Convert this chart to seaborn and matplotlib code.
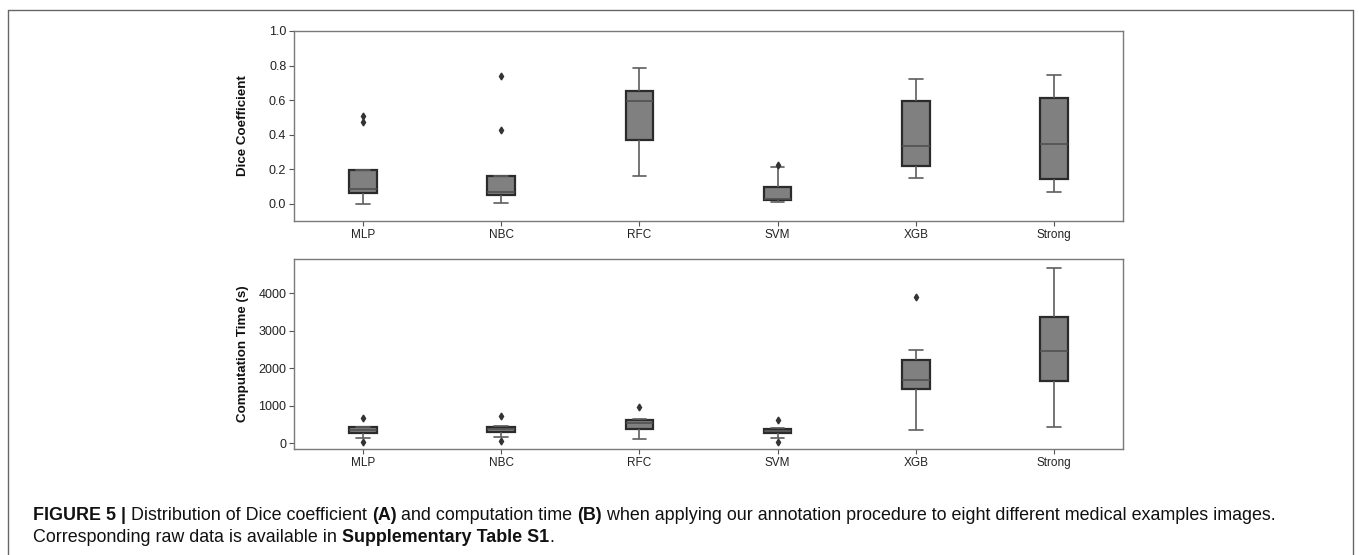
import numpy as np
import pandas as pd
import matplotlib
matplotlib.use("Agg")
import matplotlib.pyplot as plt
from matplotlib.lines import Line2D
import seaborn as sns

# classifiers compared
methods = ["MLP", "NBC", "RFC", "SVM", "XGB", "Strong"]

# Dice coefficient per image (eight medical images per method)
dice_mlp = [0.0, 0.06, 0.065, 0.075, 0.091, 0.099, 0.475, 0.506]
dice_nbc = [0.006, 0.04, 0.051, 0.062, 0.07, 0.072, 0.425, 0.739]
dice_rfc = [0.162, 0.30, 0.39, 0.58, 0.606, 0.64, 0.692, 0.786]
dice_svm = [0.008, 0.015, 0.023, 0.026, 0.032, 0.06, 0.212, 0.226]
dice_xgb = [0.147, 0.19, 0.23, 0.30, 0.372, 0.57, 0.67, 0.722]
dice_strong = [0.066, 0.10, 0.157, 0.30, 0.388, 0.58, 0.70, 0.745]

# computation time in seconds per image
time_mlp = [44, 133, 334, 340, 372, 421, 445, 667]
time_nbc = [55, 160, 347, 355, 391, 423, 450, 738]
time_rfc = [107, 340, 413, 505, 561, 600, 649, 965]
time_svm = [44, 133, 312, 320, 356, 388, 400, 622]
time_xgb = [347, 1300, 1499, 1600, 1796, 2121, 2489, 3911]
time_strong = [444, 1400, 1761, 2300, 2642, 3200, 3876, 4685]

dice_ticks = [0.0, 0.2, 0.4, 0.6, 0.8, 1.0]
time_ticks = [0, 1000, 2000, 3000, 4000]

caption_line1 = [("FIGURE 5 | ", "bold"), ("Distribution of Dice coefficient ", "normal"),
                 ("(A)", "bold"), (" and computation time ", "normal"), ("(B)", "bold"),
                 (" when applying our annotation procedure to eight different medical examples images.", "normal")]
caption_line2 = [("Corresponding raw data is available in ", "normal"),
                 ("Supplementary Table S1", "bold"), (".", "normal")]


def long_form(groups, name):
    """stack the per-method lists into one long dataframe"""
    rows = []
    for m, vals in zip(methods, groups):
        for v in vals:
            rows.append((m, v))
    return pd.DataFrame(rows, columns=["method", name])


df_dice = long_form([dice_mlp, dice_nbc, dice_rfc, dice_svm, dice_xgb, dice_strong], "dice")
df_time = long_form([time_mlp, time_nbc, time_rfc, time_svm, time_xgb, time_strong], "time")

sns.set_style("white")
plt.rcParams["font.family"] = ["Liberation Sans", "DejaVu Sans"]

W, H = 1359, 555
fig = plt.figure(figsize=(W / 100, H / 100), dpi=100)

ax1 = fig.add_axes([294 / W, 1 - 221 / H, 829 / W, 190 / H])
ax2 = fig.add_axes([294 / W, 1 - 449 / H, 829 / W, 190 / H])

box_style = dict(
    color="#808080", saturation=1, width=0.2, linewidth=1.2,
    boxprops={"edgecolor": "#2b2b2b", "linewidth": 1.6},
    whiskerprops={"color": "#5e5e5e", "linewidth": 1.2},
    capprops={"color": "#5e5e5e", "linewidth": 1.2},
    medianprops={"color": "#505050", "linewidth": 1.2},
    flierprops={"marker": "d", "markerfacecolor": "#333333",
                "markeredgecolor": "#333333", "markersize": 3.5},
)

sns.boxplot(data=df_dice, x="method", y="dice", order=methods, ax=ax1, **box_style)
sns.boxplot(data=df_time, x="method", y="time", order=methods, ax=ax2, **box_style)

ax1.set_ylim(-0.1, 1.0)
ax1.set_yticks(dice_ticks)
ax1.set_yticklabels([f"{t:.1f}" for t in dice_ticks])
ax2.set_ylim(-150, 4915)
ax2.set_yticks(time_ticks)

for ax, lab in [(ax1, "Dice Coefficient"), (ax2, "Computation Time (s)")]:
    ax.set_xlim(-0.5, 5.5)
    ax.set_xlabel("")
    ax.set_ylabel(lab, fontsize=9.6, fontweight="bold", color="#111111")
    ax.yaxis.set_label_coords(-0.054, 0.5)
    for sp in ax.spines.values():
        sp.set_visible(True)
        sp.set_color("#7a7a7a")
        sp.set_linewidth(1.0)
    ax.tick_params(axis="both", which="major", length=3.5, width=0.8,
                   color="#555555", labelcolor="#222222", pad=2,
                   bottom=True, left=True)
    ax.tick_params(axis="x", labelsize=8.5)
    ax.tick_params(axis="y", labelsize=9)

# border around the figure panel (open at the bottom)
border_kw = dict(color="#666666", linewidth=1.0, transform=fig.transFigure)
x0, x1, ytop = 8 / W, 1353 / W, 1 - 9.5 / H
fig.add_artist(Line2D([x0, x1], [ytop, ytop], **border_kw))
fig.add_artist(Line2D([x0, x0], [ytop, 0], **border_kw))
fig.add_artist(Line2D([x1, x1], [ytop, 0], **border_kw))

# caption with mixed bold / normal runs
fig.canvas.draw()
renderer = fig.canvas.get_renderer()


def draw_runs(runs, x_px, y_px, size):
    x = x_px
    for txt, weight in runs:
        t = fig.text(x / W, 1 - y_px / H, txt, fontsize=size, fontweight=weight,
                     color="#111111", va="center", ha="left")
        bb = t.get_window_extent(renderer=renderer)
        x += bb.width


draw_runs(caption_line1, 33, 516, 12.9)
draw_runs(caption_line2, 33, 538, 12.9)

fig.savefig("out.png", dpi=100)
